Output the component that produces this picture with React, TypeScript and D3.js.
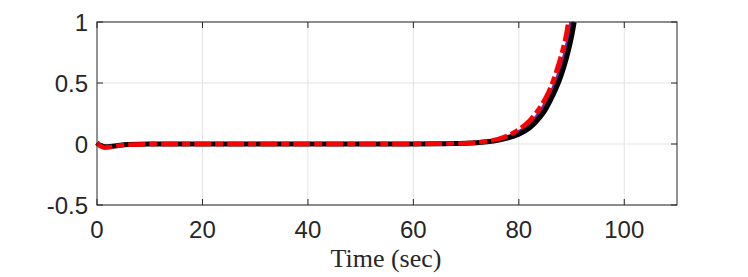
import React from "react";
import * as d3 from "d3";

const xTicks = [0, 20, 40, 60, 80, 100];
const yTicks = [-0.5, 0, 0.5, 1];
const yTickLabels = ["-0.5", "0", "0.5", "1"];

const blackT = [0, 0.5, 1, 1.5, 2.5, 4, 6, 10, 20, 40, 60, 66, 70, 72, 74, 76, 78, 80, 82, 84, 85, 86, 87, 88, 89, 90, 90.5];
const blackY = [0.01, -0.008, -0.018, -0.022, -0.02, -0.012, -0.005, -0.001, 0, 0, 0.001, 0.003, 0.006, 0.01, 0.018, 0.03, 0.05, 0.08, 0.13, 0.22, 0.28, 0.36, 0.45, 0.56, 0.7, 0.88, 1.0];

const purpleT = [0, 0.5, 1, 1.5, 2.5, 4, 6, 10, 20, 40, 60, 66, 70, 72, 74, 76, 78, 80, 82, 84, 85, 86, 87, 88, 89, 89.9];
const purpleY = [0.01, -0.01, -0.02, -0.025, -0.022, -0.013, -0.005, -0.001, 0, 0, 0.001, 0.003, 0.006, 0.011, 0.02, 0.035, 0.06, 0.1, 0.16, 0.26, 0.33, 0.41, 0.51, 0.63, 0.79, 1.0];

const redT = [0, 0.5, 1, 1.5, 2.5, 4, 6, 10, 20, 40, 60, 66, 70, 72, 74, 76, 78, 80, 82, 84, 85, 86, 87, 88, 89, 89.4];
const redY = [0.01, -0.012, -0.024, -0.03, -0.025, -0.014, -0.006, -0.001, 0, 0, 0.001, 0.003, 0.007, 0.012, 0.022, 0.04, 0.07, 0.12, 0.19, 0.3, 0.37, 0.46, 0.58, 0.72, 0.9, 1.0];

const W = 748;
const H = 277;
const left = 97;
const right = 677;
const top = 22;
const bottom = 205;

export default function App() {
  const x = d3.scaleLinear().domain([0, 110]).range([left, right]);
  const y = d3.scaleLinear().domain([-0.5, 1]).range([bottom, top]);
  const line = d3
    .line<[number, number]>()
    .x((d) => x(d[0]))
    .y((d) => y(d[1]))
    .curve(d3.curveMonotoneX);
  const zip = (a: number[], b: number[]) => a.map((v, i) => [v, b[i]] as [number, number]);
  const axisColor = "#262626";
  const gridColor = "#e3e3e3";
  const tickFont = "Liberation Sans, Arial, sans-serif";
  return (
    <svg width={W} height={H} style={{ position: "absolute", left: 0, top: 0, background: "#fff" }}>
      <rect x={0} y={0} width={W} height={H} fill="#fff" />
      {xTicks.slice(1).map((t) => (
        <line key={"gx" + t} x1={x(t)} x2={x(t)} y1={top} y2={bottom} stroke={gridColor} strokeWidth={1} />
      ))}
      {yTicks.map((t) => (
        <line key={"gy" + t} x1={left} x2={right} y1={y(t)} y2={y(t)} stroke={gridColor} strokeWidth={1} />
      ))}
      {xTicks.map((t) => (
        <g key={"tx" + t}>
          <line x1={x(t)} x2={x(t)} y1={bottom} y2={bottom - 6} stroke={axisColor} />
          <line x1={x(t)} x2={x(t)} y1={top} y2={top + 6} stroke={axisColor} />
          <text x={x(t)} y={238} textAnchor="middle" fontFamily={tickFont} fontSize={24} fill={axisColor}>
            {t}
          </text>
        </g>
      ))}
      {yTicks.map((t, i) => (
        <g key={"ty" + t}>
          <line x1={left} x2={left + 6} y1={y(t)} y2={y(t)} stroke={axisColor} />
          <line x1={right} x2={right - 6} y1={y(t)} y2={y(t)} stroke={axisColor} />
          <text x={88} y={y(t) + 8.5} textAnchor="end" fontFamily={tickFont} fontSize={24} fill={axisColor}>
            {yTickLabels[i]}
          </text>
        </g>
      ))}
      <path d={line(zip(purpleT, purpleY)) || ""} fill="none" stroke="#7e1e9c" strokeWidth={3.5} />
      <path d={line(zip(blackT, blackY)) || ""} fill="none" stroke="#000" strokeWidth={5} />
      <path
        d={line(zip(redT, redY)) || ""}
        fill="none"
        stroke="#ff0000"
        strokeWidth={4.5}
        strokeDasharray="17 4 8 4"
      />
      <rect x={left} y={top} width={right - left} height={bottom - top} fill="none" stroke={axisColor} strokeWidth={1} />
      <text
        x={386}
        y={267}
        textAnchor="middle"
        fontFamily="Liberation Serif, Times New Roman, serif"
        fontSize={26}
        fill={axisColor}
      >
        Time (sec)
      </text>
    </svg>
  );
}
